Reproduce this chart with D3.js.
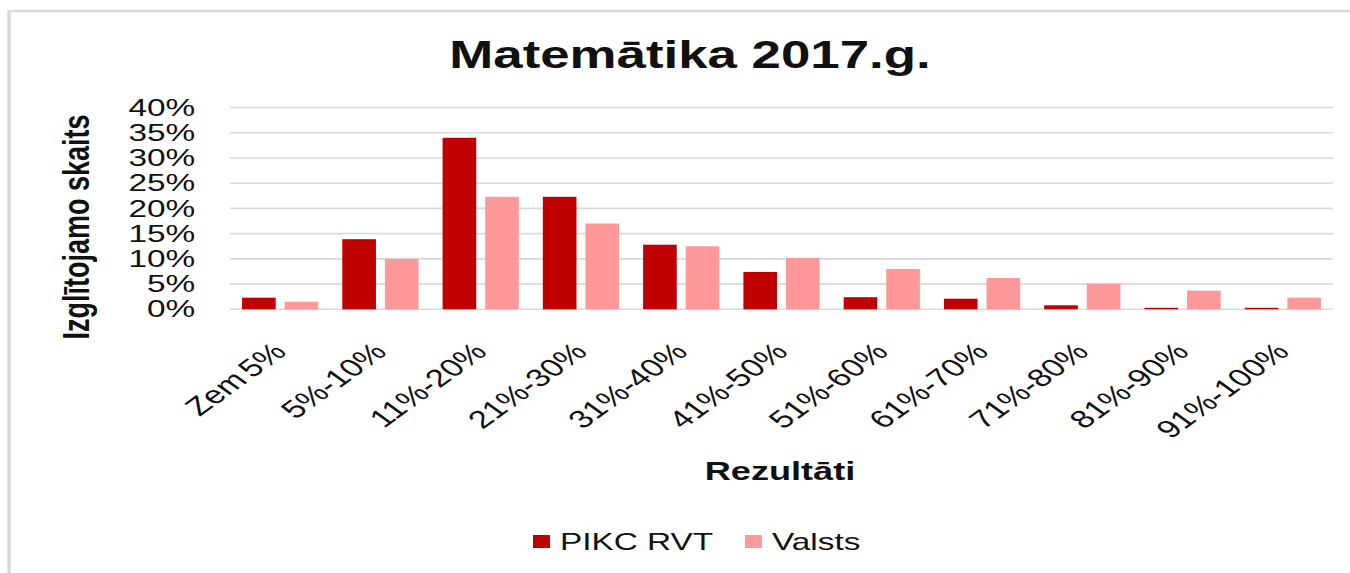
<!DOCTYPE html>
<html>
<head>
<meta charset="utf-8">
<script src="https://cdn.jsdelivr.net/npm/d3@7"></script>
<style>
  html, body { margin: 0; padding: 0; background: #fff; }
  svg { display: block; }
  text { font-family: "Liberation Sans", Arial, sans-serif; fill: #111; }
</style>
</head>
<body>
<svg id="chart"></svg>
<script>
const categories = ['Zem 5%', '5%-10%', '11%-20%', '21%-30%', '31%-40%', '41%-50%',
	'51%-60%', '61%-70%', '71%-80%', '81%-90%', '91%-100%'];
const seriesNames = ['PIKC RVT', 'Valsts'];
const pikcRvt = [2.3, 13.9, 34.0, 22.3, 12.8, 7.4, 2.4, 2.1, 0.8, 0.3, 0.3];
const valsts = [1.5, 10.0, 22.3, 17.0, 12.5, 10.2, 8.0, 6.2, 5.1, 3.7, 2.3];
const yTicks = [0, 5, 10, 15, 20, 25, 30, 35, 40];

const colors = ['#C00000', '#FF9999'];

// the original picture is stretched sideways, so draw narrow and stretch x
const k = 1.39;
const width = 1350;
const height = 573;
const W = width / k;
const px = v => v / k;

const svg = d3.select('#chart')
	.attr('width', width)
	.attr('height', height)
	.attr('viewBox', `0 0 ${W} ${height}`)
	.attr('preserveAspectRatio', 'none');

// outer frame (only top and left visible)
svg.append('rect')
	.attr('x', px(9))
	.attr('y', 11)
	.attr('width', W)
	.attr('height', height)
	.attr('fill', 'none')
	.attr('stroke', '#D9D9D9')
	.attr('stroke-width', 2.5);

const plotLeft = px(230), plotRight = px(1333);
const plotTop = 107.5, plotBottom = 309.3;

let x = d3.scaleBand()
	.domain(categories)
	.range([plotLeft, plotRight])
	.paddingInner(0.24)
	.paddingOuter(0.12);

let xs = d3.scaleBand()
	.domain(seriesNames)
	.range([0, x.bandwidth()])
	.paddingInner(0.21);

let y = d3.scaleLinear()
	.domain([0, 40])
	.range([plotBottom, plotTop]);

// gridlines
svg.append('g')
	.selectAll('line')
	.data(yTicks)
	.join('line')
	.attr('x1', plotLeft)
	.attr('x2', plotRight)
	.attr('y1', d => y(d))
	.attr('y2', d => y(d))
	.attr('stroke', '#D9D9D9')
	.attr('stroke-width', 1.6);

// y axis labels
const yAxis = svg.append('g')
	.attr('transform', `translate(${plotLeft},0)`)
	.call(d3.axisLeft(y).tickValues(yTicks).tickSize(0).tickPadding(25).tickFormat(d => d + '%'));
yAxis.select('.domain').remove();
yAxis.selectAll('text')
	.attr('font-size', 24)
	.attr('font-family', '"Liberation Sans", Arial, sans-serif')
	.attr('fill', '#111');

// bars
const rows = categories.map((c, i) => ({cat: c, values: [pikcRvt[i], valsts[i]]}));

let groups = svg.append('g')
	.selectAll('g')
	.data(rows)
	.join('g')
	.attr('transform', d => `translate(${x(d.cat)},0)`);

groups.selectAll('rect')
	.data(d => d.values.map((v, j) => ({name: seriesNames[j], value: v, j})))
	.join('rect')
	.attr('x', d => xs(d.name))
	.attr('y', d => y(d.value))
	.attr('width', xs.bandwidth())
	.attr('height', d => plotBottom - y(d.value))
	.attr('fill', d => colors[d.j]);

// x labels, rotated
svg.append('g')
	.selectAll('text')
	.data(categories)
	.join('text')
	.attr('transform', d => `translate(${x(d) + x.bandwidth() / 2 + px(8)},${plotBottom + 44}) rotate(-45)`)
	.attr('text-anchor', 'end')
	.attr('font-size', 25)
	.attr('word-spacing', -3)
	.text(d => d);

// title
svg.append('text')
	.attr('x', px(690))
	.attr('y', 68)
	.attr('text-anchor', 'middle')
	.attr('font-size', 38)
	.attr('font-weight', 'bold')
	.text('Matemātika 2017.g.');

// y title
svg.append('text')
	.attr('transform', `translate(${px(89)},${227}) rotate(-90)`)
	.attr('text-anchor', 'middle')
	.attr('font-size', 27)
	.attr('font-weight', 'bold')
	.text('Izglītojamo skaits');

// x title
svg.append('text')
	.attr('x', px(780))
	.attr('y', 480)
	.attr('text-anchor', 'middle')
	.attr('font-size', 26)
	.attr('font-weight', 'bold')
	.text('Rezultāti');

// legend
const legendX = [533, 745];
let legend = svg.append('g')
	.selectAll('g')
	.data(seriesNames)
	.join('g')
	.attr('transform', (d, i) => `translate(${px(legendX[i])},535)`);

legend.append('rect')
	.attr('width', px(17))
	.attr('height', 13)
	.attr('fill', (d, i) => colors[i]);

legend.append('text')
	.attr('x', px(27))
	.attr('y', 15)
	.attr('font-size', 24)
	.text(d => d);
</script>
</body>
</html>
